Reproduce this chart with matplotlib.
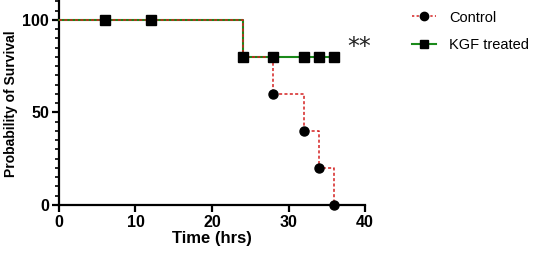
import matplotlib
matplotlib.use("Agg")
import matplotlib.pyplot as plt
from matplotlib.ticker import MultipleLocator

plt.rcParams["font.family"] = ["Liberation Sans", "DejaVu Sans"]

# survival steps (time in hrs, survival %)
kgf_t = [0, 24, 24, 36]
kgf_s = [100, 100, 80, 80]
kgf_mark_t = [6, 12, 24, 28, 32, 34, 36]
kgf_mark_s = [100, 100, 80, 80, 80, 80, 80]

ctrl_t = [0, 24, 28, 32, 34, 36]
ctrl_s = [100, 80, 60, 40, 20, 0]
ctrl_mark_t = [28, 32, 34, 36]
ctrl_mark_s = [60, 40, 20, 0]

fig = plt.figure(figsize=(5.36, 2.61), dpi=100)
ax = fig.add_axes([0.110, 0.2146, 0.571, 0.78])

ax.plot(kgf_t, kgf_s, color="#1a8a1a", lw=1.5, zorder=3)
ax.plot(kgf_mark_t, kgf_mark_s, ls="none", marker="s", ms=6.5, color="black", zorder=5)
ax.step(ctrl_t, ctrl_s, where="post", color="#d42020", lw=1.1, ls=(0, (2, 1.5)), zorder=4)
ax.plot(ctrl_mark_t, ctrl_mark_s, ls="none", marker="o", ms=6.5, color="black", zorder=5)

ax.text(39.3, 81.5, "**", fontsize=17, family="DejaVu Sans",
        ha="center", va="baseline", color="#222222")

ax.set_xlim(0, 40)
ax.set_ylim(0, 110)
ax.spines["top"].set_visible(False)
ax.spines["right"].set_visible(False)
for s in ("left", "bottom"):
    ax.spines[s].set_linewidth(1.6)
ax.set_xticks([0, 10, 20, 30, 40])
ax.set_yticks([0, 50, 100])
ax.yaxis.set_minor_locator(MultipleLocator(5))
ax.tick_params(axis="both", which="major", width=1.6, length=5, labelsize=11.5, pad=2)
ax.tick_params(axis="y", which="minor", width=1.2, length=3)
for lab in ax.get_xticklabels() + ax.get_yticklabels():
    lab.set_fontweight("bold")
ax.set_xlabel("Time (hrs)", fontsize=12, fontweight="bold", labelpad=1)
ax.set_ylabel("Probability of Survival", fontsize=10, fontweight="bold", labelpad=3)
for ln in ax.lines:
    ln.set_clip_on(False)

# legend handles
h1, = ax.plot([], [], color="#d42020", lw=1.1, ls=(0, (1.5, 1.5)), marker="o", ms=6,
              markerfacecolor="black", markeredgecolor="black")
h2, = ax.plot([], [], color="#1a8a1a", lw=1.5, marker="s", ms=6,
              markerfacecolor="black", markeredgecolor="black")
fig.legend([h1, h2], ["Control", "KGF treated"], loc="upper left",
           bbox_to_anchor=(0.745, 1.01), frameon=False, fontsize=10.5,
           handlelength=1.6, handletextpad=0.9, labelspacing=0.95)

fig.savefig("out.png", dpi=100)
